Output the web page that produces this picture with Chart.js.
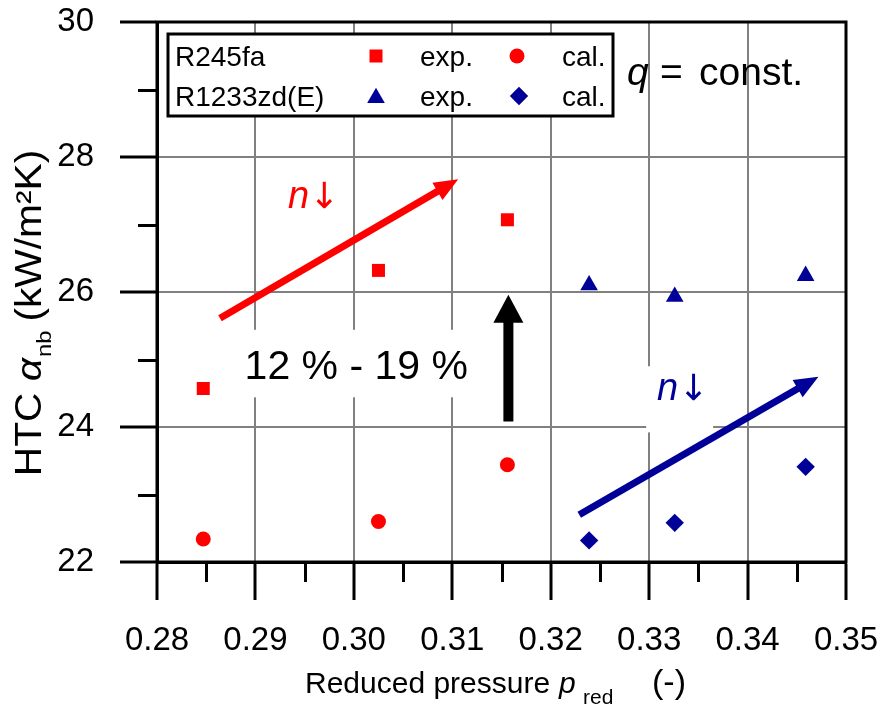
<!DOCTYPE html>
<html>
<head>
<meta charset="utf-8">
<script src="https://cdn.jsdelivr.net/npm/chart.js@4.4.1/dist/chart.umd.min.js"></script>
<style>
  html, body { margin: 0; padding: 0; background: #fff; }
  canvas { display: block; }
</style>
</head>
<body>
<canvas id="chart" width="881" height="706"></canvas>
<script>
// Giá trị: áp suất rút gọn (x) và HTC (y)
const pRedR245fa = [0.2847, 0.3025, 0.3156];
const htcExpR245fa = [24.57, 26.32, 27.07];
const htcCalR245fa = [22.34, 22.60, 23.44];

const pRedR1233zd = [0.3239, 0.3326, 0.3459];
const htcExpR1233zd = [26.10, 25.93, 26.24];
const htcCalR1233zd = [22.32, 22.58, 23.41];

// Vạch chia trục
const xTicks = [0.28, 0.29, 0.30, 0.31, 0.32, 0.33, 0.34, 0.35];
const yTicks = [22, 24, 26, 28, 30];
const xMinor = [0.285, 0.295, 0.305, 0.315, 0.325, 0.335, 0.345];
const yMinor = [23, 25, 27, 29];

// Mũi tên chú thích (toạ độ dữ liệu: [x, y])
const redArrow = [[0.2864, 25.61], [0.3106, 27.67]];
const blueArrow = [[0.3229, 22.70], [0.3472, 24.745]];
const blackArrow = [[0.3157, 24.08], [0.3157, 25.96]];

const RED = '#ff0000';
const BLUE = '#000099';
const FONT = '"Liberation Sans", Arial, sans-serif';

function toPoints(xs, ys) {
    return xs.map((x, i) => ({ x: x, y: ys[i] }));
}

// Vẽ chuỗi chữ nhiều đoạn (nghiêng, chỉ số dưới...)
function drawRuns(ctx, runs, x, y, align) {
    let total = 0;
    runs.forEach(r => { ctx.font = r.f; total += ctx.measureText(r.t).width + (r.gap || 0); });
    let cx = align === 'center' ? x - total / 2 : x;
    ctx.textAlign = 'left';
    ctx.textBaseline = 'alphabetic';
    runs.forEach(r => {
        ctx.font = r.f;
        ctx.fillText(r.t, cx, y + (r.dy || 0));
        cx += ctx.measureText(r.t).width + (r.gap || 0);
    });
}

function drawArrow(ctx, x0, y0, x1, y1, color, lw, headLen, headW) {
    const ang = Math.atan2(y1 - y0, x1 - x0);
    const bx = x1 - Math.cos(ang) * headLen;
    const by = y1 - Math.sin(ang) * headLen;
    ctx.save();
    ctx.strokeStyle = color;
    ctx.fillStyle = color;
    ctx.lineWidth = lw;
    ctx.lineCap = 'butt';
    ctx.beginPath();
    ctx.moveTo(x0, y0);
    ctx.lineTo(bx + Math.cos(ang) * 2, by + Math.sin(ang) * 2);
    ctx.stroke();
    ctx.beginPath();
    ctx.moveTo(x1, y1);
    ctx.lineTo(bx + Math.sin(ang) * headW / 2, by - Math.cos(ang) * headW / 2);
    ctx.lineTo(bx - Math.sin(ang) * headW / 2, by + Math.cos(ang) * headW / 2);
    ctx.closePath();
    ctx.fill();
    ctx.restore();
}

function legendMarker(ctx, style, radius, color, x, y) {
    ctx.fillStyle = color;
    if (Chart.helpers && Chart.helpers.drawPoint) {
        Chart.helpers.drawPoint(ctx, { pointStyle: style, radius: radius, rotation: 0, borderWidth: 0 }, x, y);
    }
}

// Bỏ phần đệm tự động theo nhãn để vùng vẽ khớp hình gốc
function noAutoPadding(s) {
    s.paddingTop = 0; s.paddingBottom = 0;
    s.paddingLeft = 0; s.paddingRight = 0;
}

const annotationPlugin = {
    id: 'annotations',
    beforeDatasetsDraw(chart) {
        const ctx = chart.ctx;
        const xs = chart.scales.x, ys = chart.scales.y;
        const px = v => xs.getPixelForValue(v);
        const py = v => ys.getPixelForValue(v);

        ctx.save();
        // Ô nền trắng sau chữ
        ctx.fillStyle = '#fff';
        ctx.fillRect(px(0.2879), py(25.44), px(0.3135) - px(0.2879), py(24.44) - py(25.44));
        ctx.fillRect(px(0.3297), py(24.9), px(0.3365) - px(0.3297), py(23.92) - py(24.9));

        ctx.fillStyle = '#000';
        drawRuns(ctx, [{ t: '12 % - 19 %', f: '41px ' + FONT }], px(0.2889), py(24.71), 'left');

        // n↓
        const nRuns = [{ t: 'n', f: 'italic 38px ' + FONT, gap: 0 }, { t: '↓', f: '36px "DejaVu Sans", sans-serif' }];
        ctx.fillStyle = RED;
        drawRuns(ctx, nRuns, px(0.2933), py(27.24), 'left');
        ctx.fillStyle = BLUE;
        drawRuns(ctx, nRuns, px(0.3308), py(24.40), 'left');

        drawArrow(ctx, px(redArrow[0][0]), py(redArrow[0][1]), px(redArrow[1][0]), py(redArrow[1][1]), RED, 7, 24, 20);
        drawArrow(ctx, px(blueArrow[0][0]), py(blueArrow[0][1]), px(blueArrow[1][0]), py(blueArrow[1][1]), BLUE, 7, 24, 20);
        drawArrow(ctx, px(blackArrow[0][0]), py(blackArrow[0][1]), px(blackArrow[1][0]), py(blackArrow[1][1]), '#000', 10, 28, 30);

        // q = const.
        ctx.fillStyle = '#000';
        ctx.textAlign = 'left';
        ctx.textBaseline = 'alphabetic';
        ctx.font = 'italic 39px ' + FONT;
        ctx.fillText('q', 627, 85);
        ctx.font = '39px ' + FONT;
        ctx.fillText('=', 660, 85);
        ctx.fillText('const.', 699, 85);
        ctx.restore();
    },
    afterDraw(chart) {
        const ctx = chart.ctx;
        const a = chart.chartArea;
        const xs = chart.scales.x, ys = chart.scales.y;
        ctx.save();

        // Vạch chia phụ
        ctx.strokeStyle = '#000';
        ctx.lineWidth = 3;
        ctx.beginPath();
        xMinor.forEach(v => {
            const p = Math.round(xs.getPixelForValue(v)) + 0.5;
            ctx.moveTo(p, a.bottom); ctx.lineTo(p, a.bottom + 20);
        });
        yMinor.forEach(v => {
            const p = Math.round(ys.getPixelForValue(v)) + 0.5;
            ctx.moveTo(a.left, p); ctx.lineTo(a.left - 19, p);
        });
        ctx.stroke();

        // Khung
        ctx.strokeRect(a.left, a.top, a.right - a.left, a.bottom - a.top);

        // Chú giải
        ctx.fillStyle = '#fff';
        ctx.fillRect(168, 34, 445, 82);
        ctx.lineWidth = 3;
        ctx.strokeRect(168, 34, 445, 82);
        ctx.fillStyle = '#000';
        ctx.font = '28px ' + FONT;
        ctx.textAlign = 'left';
        ctx.textBaseline = 'alphabetic';
        ctx.fillText('R245fa', 175, 66);
        ctx.fillText('R1233zd(E)', 175, 106);
        ctx.fillText('exp.', 420, 66);
        ctx.fillText('cal.', 562, 66);
        ctx.fillText('exp.', 420, 106);
        ctx.fillText('cal.', 562, 106);
        legendMarker(ctx, 'rect', 9.2, RED, 376, 56);
        legendMarker(ctx, 'circle', 7.5, RED, 517, 56);
        legendMarker(ctx, 'triangle', 10.2, BLUE, 376, 98);
        legendMarker(ctx, 'rectRot', 9.2, BLUE, 519, 96);

        // Tiêu đề trục x
        ctx.fillStyle = '#000';
        ctx.textAlign = 'left';
        ctx.font = '30px ' + FONT;
        ctx.fillText('Reduced pressure', 305, 693);
        ctx.font = 'italic 30px ' + FONT;
        ctx.fillText('p', 559, 693);
        ctx.font = '21px ' + FONT;
        ctx.fillText('red', 583, 704);
        ctx.font = '34px ' + FONT;
        ctx.fillText('(-)', 652, 693);

        // Tiêu đề trục y
        ctx.save();
        ctx.translate(41, 313);
        ctx.rotate(-Math.PI / 2);
        ctx.scale(1.13, 1);
        drawRuns(ctx, [
            { t: 'HTC ', f: '36px ' + FONT },
            { t: 'α', f: 'italic 36px ' + FONT, gap: 1 },
            { t: 'nb', f: '21px ' + FONT, dy: 10, gap: 8 },
            { t: '(kW/m²K)', f: '36px ' + FONT }
        ], 0, 0, 'center');
        ctx.restore();

        ctx.restore();
    }
};

const ctx = document.getElementById('chart').getContext('2d');
new Chart(ctx, {
    type: 'scatter',
    data: {
        datasets: [
            { label: 'R245fa exp.', data: toPoints(pRedR245fa, htcExpR245fa), pointStyle: 'rect', pointRadius: 9.2, backgroundColor: RED, borderColor: RED, pointBorderWidth: 0 },
            { label: 'R245fa cal.', data: toPoints(pRedR245fa, htcCalR245fa), pointStyle: 'circle', pointRadius: 7.5, backgroundColor: RED, borderColor: RED, pointBorderWidth: 0 },
            { label: 'R1233zd(E) exp.', data: toPoints(pRedR1233zd, htcExpR1233zd), pointStyle: 'triangle', pointRadius: 10.2, backgroundColor: BLUE, borderColor: BLUE, pointBorderWidth: 0 },
            { label: 'R1233zd(E) cal.', data: toPoints(pRedR1233zd, htcCalR1233zd), pointStyle: 'rectRot', pointRadius: 9.2, backgroundColor: BLUE, borderColor: BLUE, pointBorderWidth: 0 }
        ]
    },
    options: {
        responsive: false,
        animation: false,
        devicePixelRatio: 1,
        layout: { autoPadding: false, padding: { left: 0, top: 22, right: 35, bottom: 0 } },
        plugins: { legend: { display: false }, tooltip: { enabled: false } },
        scales: {
            x: {
                type: 'linear', min: 0.28, max: 0.35,
                afterBuildTicks: s => { s.ticks = xTicks.map(v => ({ value: v })); },
                afterFit: s => { s.height = 144; noAutoPadding(s); },
                ticks: { callback: v => v.toFixed(2), color: '#000', font: { family: FONT, size: 33 }, padding: 21, maxRotation: 0, autoSkip: false },
                grid: { color: '#808080', lineWidth: 2, tickColor: '#000', tickWidth: 3, tickLength: 38 },
                border: { color: '#000', width: 3 }
            },
            y: {
                type: 'linear', min: 22, max: 30,
                afterBuildTicks: s => { s.ticks = yTicks.map(v => ({ value: v })); },
                afterFit: s => { s.width = 157; noAutoPadding(s); },
                ticks: { callback: v => String(v), color: '#000', font: { family: FONT, size: 33 }, padding: 26 },
                grid: { color: '#808080', lineWidth: 2, tickColor: '#000', tickWidth: 3, tickLength: 37 },
                border: { color: '#000', width: 3 }
            }
        }
    },
    plugins: [annotationPlugin]
});
</script>
</body>
</html>
